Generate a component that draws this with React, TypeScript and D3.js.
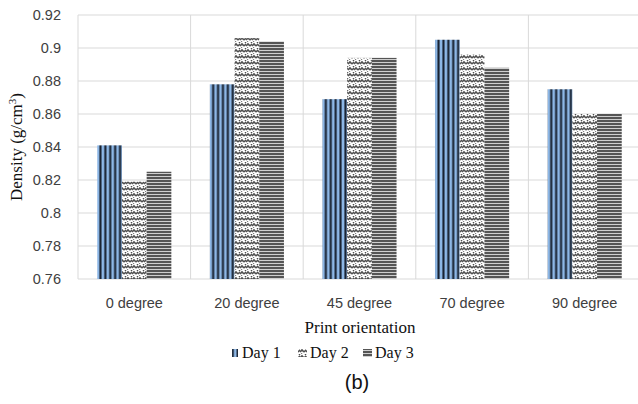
import * as d3 from "d3"

const categories = ["0 degree", "20 degree", "45 degree", "70 degree", "90 degree"]
const days = ["Day 1", "Day 2", "Day 3"]
const day1 = [0.841, 0.878, 0.869, 0.905, 0.875]
const day2 = [0.819, 0.906, 0.894, 0.896, 0.860]
const day3 = [0.825, 0.904, 0.894, 0.888, 0.860]
const yTicks = [0.76, 0.78, 0.8, 0.82, 0.84, 0.86, 0.88, 0.9, 0.92]

const series = [day1, day2, day3]
const fills = ["url(#pDay1)", "url(#pDay2)", "url(#pDay3)"]

export default function App() {
  const width = 638
  const height = 404
  const margin = { top: 15, left: 78, right: -3, bottom: 125 }

  const x = d3.scaleBand().domain(categories).range([margin.left, width - margin.right]).paddingInner(0).paddingOuter(0)
  const x1 = d3.scaleBand().domain(days).range([0, x.bandwidth()]).paddingInner(0).paddingOuter(0.78)
  const y = d3.scaleLinear().domain([0.76, 0.92]).range([height - margin.bottom, margin.top])

  const sans = "'Liberation Sans', Arial, sans-serif"
  const serif = "'Liberation Serif', 'Times New Roman', serif"
  const grid = "#d9d9d9"

  // legend layout
  const legend = [
    { label: "Day 1", sx: 232, sw: 6, tx: 242 },
    { label: "Day 2", sx: 298, sw: 9, tx: 310 },
    { label: "Day 3", sx: 363, sw: 9, tx: 375 },
  ]

  return (
    <svg width={width} height={height} style={{ position: "absolute", left: 0, top: 0, background: "#fff" }}>
      <defs>
        <pattern id="pDay1" patternUnits="userSpaceOnUse" width={4.9} height={10}>
          <rect width={4.9} height={10} fill="#8db7e6" />
          <rect x={1.4} width={2.1} height={10} fill="#17202e" />
        </pattern>
        <pattern id="pDay2" patternUnits="userSpaceOnUse" width={6} height={6}>
          <rect width={6} height={6} fill="#fff" />
          <path d="M0,4 L2,2 L4,4 M4,4 L6,2" fill="none" stroke="#505050" strokeWidth={1.7} />
          <path d="M-1,1 L0,0 M5,1 L6,0 M1,7 L2,5.5" fill="none" stroke="#505050" strokeWidth={1.4} />
        </pattern>
        <pattern id="pDay3" patternUnits="userSpaceOnUse" width={6} height={3}>
          <rect width={6} height={3} fill="#cfcfcf" />
          <rect width={6} height={2} fill="#555555" />
        </pattern>
      </defs>

      {/* horizontal grid */}
      {yTicks.map(t => (
        <line key={t} x1={margin.left} x2={width} y1={y(t)} y2={y(t)} stroke={grid} strokeWidth={1} />
      ))}
      {/* vertical grid at category boundaries */}
      {categories.map(c => (
        <line key={c} x1={x(c)!} x2={x(c)!} y1={y(0.92)} y2={y(0.76)} stroke={grid} strokeWidth={1} />
      ))}

      {/* bars */}
      {series.map((vals, si) => (
        <g key={days[si]}>
          {vals.map((v, i) => (
            <rect
              key={categories[i]}
              x={x(categories[i])! + x1(days[si])!}
              y={y(v)}
              width={x1.bandwidth()}
              height={y(0.76) - y(v)}
              fill={fills[si]}
            />
          ))}
        </g>
      ))}

      {/* y tick labels */}
      {yTicks.map(t => (
        <text key={t} x={61} y={y(t)} dy="0.35em" textAnchor="end" fontFamily={sans} fontSize={14.5} fill="#404040">
          {d3.format("")(+t.toFixed(2))}
        </text>
      ))}

      {/* category labels */}
      {categories.map(c => (
        <text key={c} x={x(c)! + x.bandwidth() / 2} y={303} dy="0.35em" textAnchor="middle" fontFamily={sans} fontSize={14.5} fill="#404040">
          {c}
        </text>
      ))}

      {/* axis titles */}
      <text transform="translate(22,147) rotate(-90)" textAnchor="middle" fontFamily={serif} fontSize={17} fill="#111">
        Density (g/cm<tspan dy={-6} fontSize={11}>3</tspan><tspan dy={6}>)</tspan>
      </text>
      <text x={360} y={333} textAnchor="middle" fontFamily={serif} fontSize={17} fill="#111">
        Print orientation
      </text>

      {/* legend */}
      {legend.map((l, i) => (
        <g key={l.label}>
          <rect x={l.sx} y={349} width={l.sw} height={8} fill={fills[i]} />
          <text x={l.tx} y={358} fontFamily={serif} fontSize={16} fill="#111">{l.label}</text>
        </g>
      ))}

      <text x={357} y={389} textAnchor="middle" fontFamily={sans} fontSize={20} fill="#111">(b)</text>
    </svg>
  )
}
